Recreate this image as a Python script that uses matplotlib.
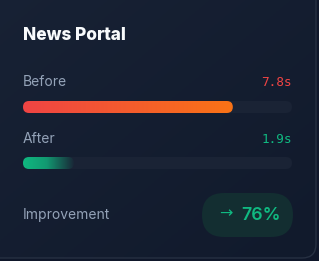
import numpy as np
import matplotlib
matplotlib.use("Agg")
import matplotlib.pyplot as plt
from matplotlib.patches import FancyBboxPatch
from matplotlib.colors import LinearSegmentedColormap

# data
title = "News Portal"
categories = ["Before", "After"]
load_times = [7.8, 1.9]          # seconds
value_labels = ["7.8s", "1.9s"]
scale_max = 10.0
improvement_label = "Improvement"
improvement_pct = 76

W, H = 319, 261
BG = "#0f172a"
TEXT_MUTED = "#94a3b8"
RED = "#ef4444"
GREEN = "#10b981"
TRACK = "#1a2335"

fig = plt.figure(figsize=(W / 100, H / 100), dpi=100)
fig.patch.set_facecolor(BG)

ax = fig.add_axes([0, 0, 1, 1])
ax.set_xlim(0, W)
ax.set_ylim(H, 0)
ax.axis("off")

# card background with soft diagonal gradient
card = FancyBboxPatch((-20, -20), 336, 278,
                      boxstyle="round,pad=0,rounding_size=14",
                      fc="none", ec="#263042", lw=1.0, zorder=3)
ax.add_patch(card)
yy, xx = np.mgrid[0:1:100j, 0:1:100j]
grad = (xx + yy) / 2
bg_cmap = LinearSegmentedColormap.from_list("bg", ["#182235", "#111a2c"])
im = ax.imshow(grad, cmap=bg_cmap, extent=(-20, 316, 258, -20),
               aspect="auto", zorder=1)
im.set_clip_path(FancyBboxPatch((-20, -20), 336, 278,
                                boxstyle="round,pad=0,rounding_size=14",
                                transform=ax.transData))

ax.text(23, 35, title, fontsize=12.4, fontweight="heavy", color="#f8fafc",
        family="Inter", va="center", ha="left", zorder=5)

bar_rows = [(82, 101), (139, 157)]   # label y, bar top (pixels)
bar_colors = [[RED, "#f97316"], [GREEN, (0.063, 0.725, 0.506, 0.0)]]
text_colors = [RED, GREEN]
bar_x0, bar_w, bar_h = 23, 269, 12

for cat, val, vlab, (ly, by), cols, tc in zip(categories, load_times,
                                             value_labels, bar_rows,
                                             bar_colors, text_colors):
    ax.text(23, ly, cat, fontsize=10, color=TEXT_MUTED, family="Inter",
            va="center", ha="left", zorder=5)
    ax.text(292, ly + 0.5, vlab, fontsize=9.2, color=tc,
            family="DejaVu Sans Mono", va="center", ha="right", zorder=5)

    bax = fig.add_axes([bar_x0 / W, 1 - (by + bar_h) / H, bar_w / W, bar_h / H])
    bax.set_xlim(0, scale_max)
    bax.set_ylim(0, 1)
    bax.axis("off")
    bax.patch.set_alpha(0)
    r = (bar_h / 2) / (bar_w / scale_max)
    asp = 0.5 / r
    track = FancyBboxPatch((0, 0), scale_max, 1,
                           boxstyle=f"round,pad=0,rounding_size={r}",
                           mutation_aspect=asp, fc=TRACK, ec="none")
    bax.add_patch(track)
    if cat == "After":
        cmap = LinearSegmentedColormap.from_list(
            "g", [(0, GREEN), (0.45, GREEN + "cc"), (1, (0.063, 0.725, 0.506, 0.0))])
    else:
        cmap = LinearSegmentedColormap.from_list("c", cols)
    fill = bax.imshow(np.linspace(0, 1, 256)[None, :], cmap=cmap,
                      extent=(0, val, 0, 1), aspect="auto", zorder=2)
    clip = FancyBboxPatch((0, 0), val, 1,
                          boxstyle=f"round,pad=0,rounding_size={r}",
                          mutation_aspect=asp, transform=bax.transData)
    fill.set_clip_path(clip)

# improvement row
ax.text(23, 215, improvement_label, fontsize=10, color=TEXT_MUTED,
        family="Inter", va="center", ha="left", zorder=5)
pill = FancyBboxPatch((202, 193), 91, 44,
                      boxstyle="round,pad=0,rounding_size=22",
                      fc="#132e31", ec="none", zorder=4)
ax.add_patch(pill)
ax.text(226, 214, "\u2192", fontsize=11.5, color=GREEN, family="DejaVu Sans",
        va="center", ha="center", zorder=5)
ax.text(241, 215, f"{improvement_pct}%", fontsize=12.8, color=GREEN,
        family="Inter", fontweight="semibold", va="center", ha="left", zorder=5)

fig.savefig("out.png", dpi=100, facecolor=BG)
